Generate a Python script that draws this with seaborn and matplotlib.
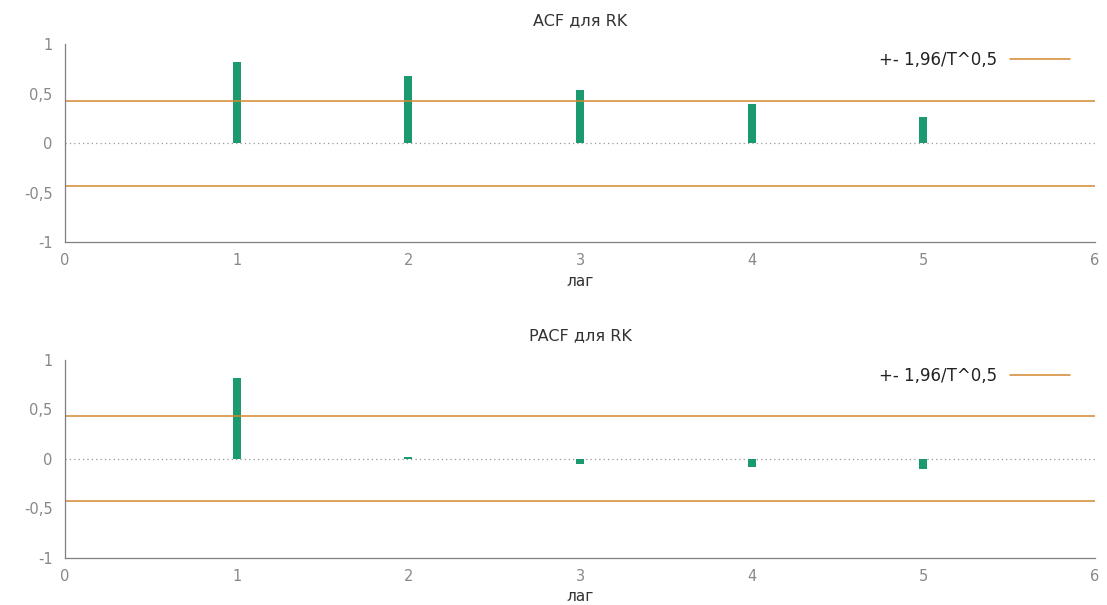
import matplotlib
matplotlib.use("Agg")
import matplotlib.pyplot as plt
import seaborn as sns
import pandas as pd
from matplotlib.lines import Line2D

# Data
lags = [1, 2, 3, 4, 5]
acf_values = [0.82, 0.68, 0.54, 0.40, 0.26]
pacf_values = [0.82, 0.02, -0.05, -0.08, -0.10]
conf_bound = 0.43
titles = ["ACF для RK", "PACF для RK"]
xlabel_text = "лаг"
legend_label = "+- 1,96/T^0,5"
y_ticks = [-1, -0.5, 0, 0.5, 1]
y_tick_labels = ["-1", "-0,5", "0", "0,5", "1"]
x_ticks = [0, 1, 2, 3, 4, 5, 6]

sns.set_style("white")
plt.rcParams["font.family"] = ["DejaVu Sans"]

GREEN = "#1b9a72"
ORANGE = "#d2892e"
GRAY = "#7f7f7f"

fig = plt.figure(figsize=(11.07, 6.05), dpi=100)
ax_top = fig.add_axes([0.0587, 0.600, 0.9305, 0.327])
ax_bot = fig.add_axes([0.0587, 0.078, 0.9305, 0.327])

for ax, vals, title in [(ax_top, acf_values, titles[0]), (ax_bot, pacf_values, titles[1])]:
    df = pd.DataFrame({"lag": lags, "value": vals})
    sns.barplot(data=df, x="lag", y="value", native_scale=True, width=0.047,
                color=GREEN, saturation=1, edgecolor="none", ax=ax)
    ax.axhline(0, color="#999999", lw=0.9, ls=(0, (1, 2.5)), zorder=0)
    ax.axhline(conf_bound, color=ORANGE, lw=1.1, zorder=1)
    ax.axhline(-conf_bound, color=ORANGE, lw=1.1, zorder=1)
    ax.set_xlim(0, 6)
    ax.set_ylim(-1, 1)
    ax.set_xticks(x_ticks)
    ax.set_xticklabels([str(t) for t in x_ticks])
    ax.set_yticks(y_ticks)
    ax.set_yticklabels(y_tick_labels)
    ax.tick_params(axis="both", direction="in", length=5, width=0.8, colors=GRAY,
                   labelsize=10.5, labelcolor="#888888")
    ax.tick_params(axis="x", pad=8)
    ax.tick_params(axis="y", pad=9)
    for s in ["top", "right"]:
        ax.spines[s].set_visible(False)
    for s in ["left", "bottom"]:
        ax.spines[s].set_color(GRAY)
        ax.spines[s].set_linewidth(0.9)
    ax.set_title(title, fontsize=11.5, color="#333333", pad=14)
    ax.set_xlabel(xlabel_text, fontsize=11, color="#333333", labelpad=4)
    ax.set_ylabel("")
    handle = Line2D([0], [0], color=ORANGE, lw=1.1)
    ax.legend([handle], [legend_label], loc="center right", bbox_to_anchor=(0.976, 0.92),
              frameon=False, markerfirst=False, handlelength=3.6, fontsize=12,
              borderpad=0, borderaxespad=0, handletextpad=0.8,
              labelcolor="#222222")

fig.savefig("out.png", dpi=100, facecolor="white")
